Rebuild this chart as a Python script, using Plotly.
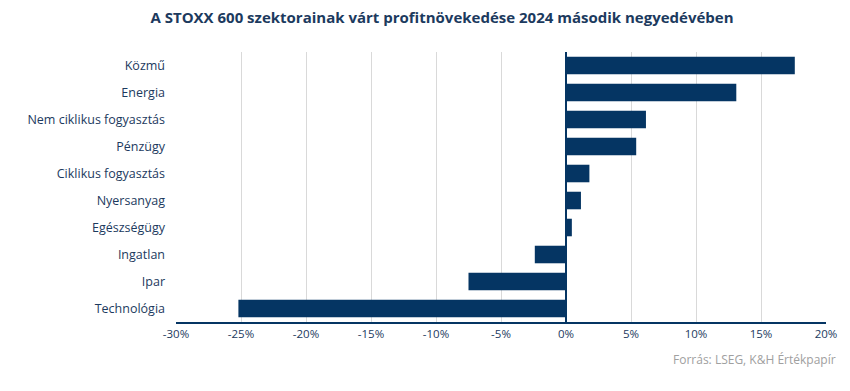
import plotly.graph_objects as go

categories = ["Közmű", "Energia", "Nem ciklikus fogyasztás", "Pénzügy", "Ciklikus fogyasztás",
              "Nyersanyag", "Egészségügy", "Ingatlan", "Ipar", "Technológia"]
values = [17.6, 13.1, 6.15, 5.4, 1.8, 1.15, 0.45, -2.4, -7.5, -25.2]
tick_vals = [-30, -25, -20, -15, -10, -5, 0, 5, 10, 15, 20]
tick_text = [f"{v}%" for v in tick_vals]

navy = "#053563"
text_col = "#1c3a5e"
font_family = "'Open Sans', sans-serif"

fig = go.Figure(go.Bar(
    y=categories, x=values, orientation="h",
    marker=dict(color=navy, line=dict(width=0)),
    hoverinfo="x+y",
))

fig.update_layout(
    width=850, height=391,
    margin=dict(l=176, r=24, t=52, b=69),
    paper_bgcolor="white", plot_bgcolor="white",
    bargap=0.35,
    showlegend=False,
    font=dict(family=font_family, color=text_col, size=12),
    title=dict(text="<b>A STOXX 600 szektorainak várt profitnövekedése 2024 második negyedévében</b>",
               x=442 / 850, xanchor="center", y=1 - 18 / 391, yanchor="middle",
               font=dict(size=15, color=text_col, family=font_family)),
    xaxis=dict(range=[-30, 20], tickvals=tick_vals, ticktext=tick_text,
               showgrid=True, gridcolor="#d9d9d9", gridwidth=1,
               zeroline=True, zerolinecolor=navy, zerolinewidth=1.5,
               showline=True, linecolor=navy, linewidth=1.5,
               ticks="", tickfont=dict(size=11.5, color=text_col), fixedrange=True),
    yaxis=dict(categoryorder="array", categoryarray=categories[::-1],
               showgrid=False, zeroline=False, showline=False,
               ticks="", ticklabelstandoff=10,
               tickfont=dict(size=12.5, color=text_col), fixedrange=True),
    annotations=[dict(text="Forrás: LSEG, K&H Értékpapír", xref="paper", yref="paper",
                      x=1.0, y=(391 - 376) / 391 - 69 / 391, xanchor="right", yanchor="middle",
                      xshift=12, yshift=0,
                      showarrow=False, font=dict(size=12, color="#a0a0a0", family=font_family))],
)

fig.write_html("out.html", config={"displayModeBar": False},
               post_script="document.body.style.margin='0';")
